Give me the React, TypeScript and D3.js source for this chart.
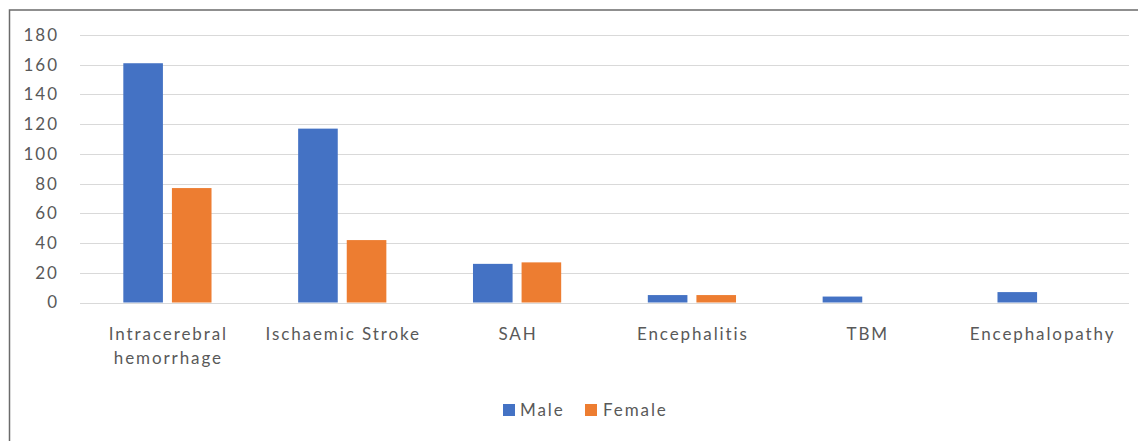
import React from "react";
import * as d3 from "d3";

// chart data
const categories = [
    ["Intracerebral", "hemorrhage"],
    ["Ischaemic Stroke"],
    ["SAH"],
    ["Encephalitis"],
    ["TBM"],
    ["Encephalopathy"],
];
const seriesNames = ["Male", "Female"];
const maleValues = [161, 117, 26, 5, 4, 7];
const femaleValues = [77, 42, 27, 5, 0, 0];
const yTicks = [0, 20, 40, 60, 80, 100, 120, 140, 160, 180];

const colors = ["#4472C4", "#ED7D31"];

const width = 1138;
const height = 441;
const plot = { left: 80, right: 1129, top: 35, bottom: 302.5 };
const font = "Lato, 'Open Sans', sans-serif";
const textColor = "#595959";
const spacing = 1.9;

export default function App() {
    const names = categories.map((c) => c.join(" "));

    const x0 = d3.scaleBand<string>()
        .domain(names)
        .range([plot.left, plot.right])
        .padding(0);

    // bars 39.6 wide with a 9px gap inside each category
    const step = 48.6;
    const pIn = 9 / step;
    const pOut = (x0.bandwidth() / step - 2 + pIn) / 2;
    const x1 = d3.scaleBand<string>()
        .domain(seriesNames)
        .range([0, x0.bandwidth()])
        .paddingInner(pIn)
        .paddingOuter(pOut);

    const y = d3.scaleLinear().domain([0, 180]).range([plot.bottom, plot.top]);

    const series = [maleValues, femaleValues];

    return (
        <svg
            width={width}
            height={height}
            style={{ position: "absolute", left: 0, top: 0, background: "#fff" }}
            fontFamily={font}
        >
            {/* chart frame */}
            <rect x={9.5} y={10} width={1140} height={450} fill="none" stroke="#6b6b6b" strokeWidth={1.5} />

            {/* gridlines and y tick labels */}
            {yTicks.map((t) => (
                <g key={t}>
                    <line
                        x1={plot.left}
                        x2={plot.right}
                        y1={Math.round(y(t)) + 0.5}
                        y2={Math.round(y(t)) + 0.5}
                        stroke="#d9d9d9"
                        strokeWidth={1}
                    />
                    <text
                        x={57 + spacing}
                        y={y(t)}
                        dy="0.35em"
                        textAnchor="end"
                        fontSize={17}
                        fill={textColor}
                        letterSpacing={spacing}
                    >
                        {t}
                    </text>
                </g>
            ))}

            {/* bars */}
            {names.map((name, i) => (
                <g key={name} transform={`translate(${x0(name)},0)`}>
                    {seriesNames.map((s, j) =>
                        series[j][i] > 0 ? (
                            <rect
                                key={s}
                                x={x1(s)}
                                y={y(series[j][i])}
                                width={x1.bandwidth()}
                                height={y(0) - y(series[j][i])}
                                fill={colors[j]}
                            />
                        ) : null
                    )}
                </g>
            ))}

            {/* category labels */}
            {categories.map((lines, i) => {
                const cx = (x0(names[i]) as number) + x0.bandwidth() / 2 + spacing / 2;
                return (
                    <text
                        key={i}
                        x={cx}
                        y={340}
                        textAnchor="middle"
                        fontSize={17}
                        fill={textColor}
                        letterSpacing={spacing}
                    >
                        {lines.map((l, k) => (
                            <tspan key={k} x={cx} dy={k === 0 ? 0 : 24}>
                                {l}
                            </tspan>
                        ))}
                    </text>
                );
            })}

            {/* legend */}
            <g transform="translate(503,404)">
                <rect x={0} y={0} width={12} height={12} fill={colors[0]} />
                <text x={17} y={6} dy="0.35em" fontSize={17} fill={textColor} letterSpacing={spacing}>
                    {seriesNames[0]}
                </text>
                <rect x={82} y={0} width={12} height={12} fill={colors[1]} />
                <text x={100} y={6} dy="0.35em" fontSize={17} fill={textColor} letterSpacing={spacing}>
                    {seriesNames[1]}
                </text>
            </g>
        </svg>
    );
}
